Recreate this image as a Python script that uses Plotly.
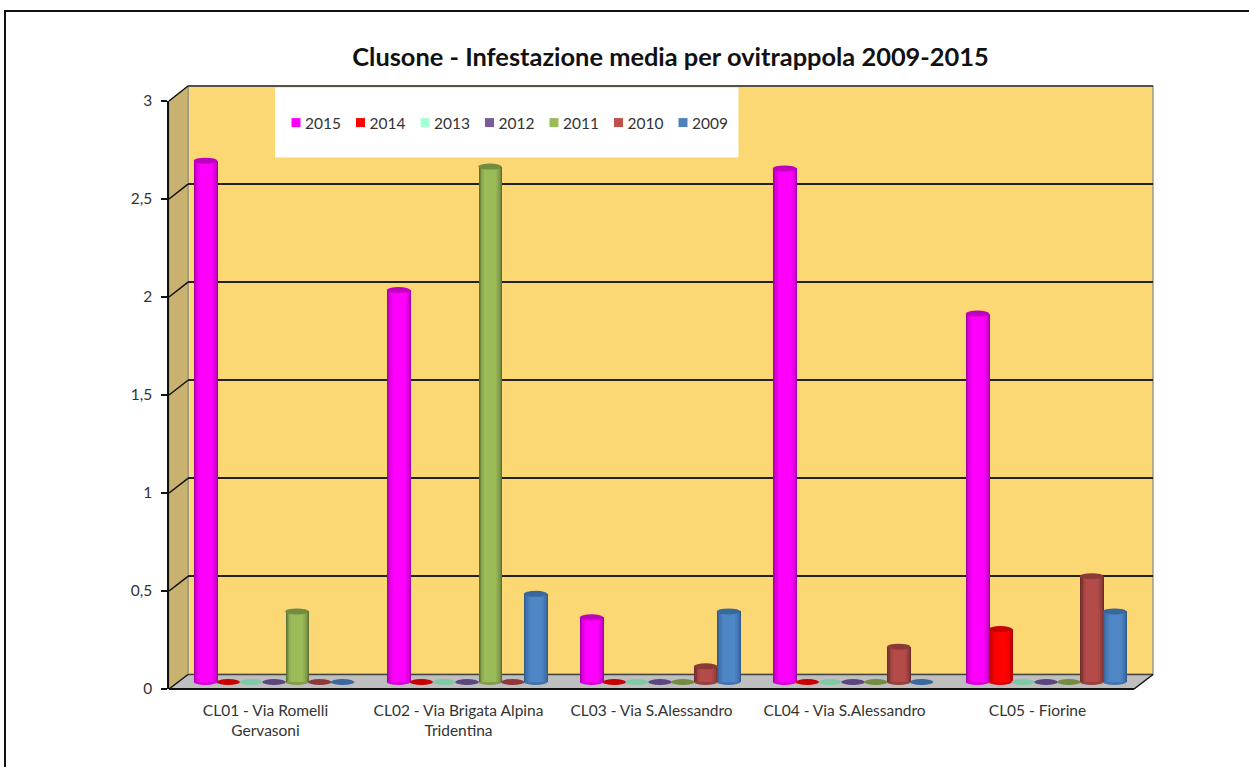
import plotly.graph_objects as go

W, H = 1249, 767

# ---- data ----
SITES = ["CL01 - Via Romelli<br>Gervasoni", "CL02 - Via Brigata Alpina<br>Tridentina",
         "CL03 - Via S.Alessandro", "CL04 - Via S.Alessandro", "CL05 - Fiorine"]
TITLE = "Clusone - Infestazione media per ovitrappola 2009-2015"
YEARS = ["2015", "2014", "2013", "2012", "2011", "2010", "2009"]
V2015 = [2.66, 2.00, 0.33, 2.62, 1.88]
V2014 = [0, 0, 0, 0, 0.27]
V2013 = [0, 0, 0, 0, 0]
V2012 = [0, 0, 0, 0, 0]
V2011 = [0.36, 2.63, 0, 0, 0]
V2010 = [0, 0, 0.08, 0.18, 0.54]
V2009 = [0, 0.45, 0.36, 0, 0.36]
SERIES = [V2015, V2014, V2013, V2012, V2011, V2010, V2009]
Y_TICKS = [0, 0.5, 1, 1.5, 2, 2.5, 3]

# legend colour, centre of cylinder, edge of cylinder, cap/disc
COL = [("#FF00FF", "#FF00FF", "#A800A8", "#C000C0"),
       ("#FF0000", "#FF0000", "#B00000", "#C80000"),
       ("#A6FFD2", "#A6FFD2", "#70B090", "#7FC9A6"),
       ("#7A5C99", "#7A5C99", "#4E3A66", "#5C4680"),
       ("#9BBB59", "#9BBB59", "#5C7233", "#728C42"),
       ("#C0504D", "#B54B48", "#6E2C2A", "#8C3A38"),
       ("#4F81BD", "#4F86C6", "#2F5C8C", "#38689C")]


def px(x):
    return x / W


def py(y):
    return 1 - y / H


def mix(a, b, t):
    ca = [int(a[i:i + 2], 16) for i in (1, 3, 5)]
    cb = [int(b[i:i + 2], 16) for i in (1, 3, 5)]
    return "#%02x%02x%02x" % tuple(round(p + (q - p) * t) for p, q in zip(ca, cb))


# geometry of the 3-D box (pixels)
FX0, FX1, FY0, FY3 = 169, 1134, 689, 101        # front axis
BX0, BX1, BY0, BY3 = 188, 1153, 674.5, 86       # back wall
CX0, CX1, CY0, CY3 = 177.5, 1142.5, 682, 94     # cylinder plane
UNIT = (CY0 - CY3) / 3
YPAD = 0.1                                      # room below zero so the round bases are not clipped
STEP = 22.85 / 193
LAYERS = [(1.03, 0.0), (0.94, 0.30), (0.84, 0.60), (0.70, 0.85), (0.52, 1.0)]


def poly(points, fill, line=None, lw=1):
    path = "M" + "L".join(f"{px(a):.5f},{py(b):.5f}" for a, b in points) + "Z"
    return dict(type="path", xref="paper", yref="paper", path=path, fillcolor=fill,
                line=dict(color=line or fill, width=lw), layer="below")


def seg(x0, y0, x1, y1, color, lw):
    return dict(type="line", xref="paper", yref="paper", x0=px(x0), y0=py(y0), x1=px(x1), y1=py(y1),
                line=dict(color=color, width=lw), layer="below")


shapes = [
    # outer frame
    dict(type="rect", xref="paper", yref="paper", x0=px(5), y0=py(11), x1=1.02, y1=-0.02,
         line=dict(color="#111111", width=2), fillcolor="rgba(0,0,0,0)", layer="below"),
    poly([(BX0, BY3), (BX1, BY3), (BX1, BY0), (BX0, BY0)], "#FCD874", "#9A9A8A", 1.5),
    poly([(FX0, FY3), (BX0, BY3), (BX0, BY0), (FX0, FY0)], "#C9B26F", "#8F8F80", 1),
    poly([(FX0, FY0), (BX0, BY0), (BX1, BY0), (FX1, FY0)], "#BFBFBF", "#BFBFBF", 1),
    seg(BX0, BY0, BX1, BY0, "#444444", 1.5),
    seg(FX0, FY0, FX1, FY0, "#111111", 2),
    seg(FX1, FY0, BX1, BY0, "#111111", 1.5),
    seg(BX0, BY3, BX1, BY3, "#333333", 1.5),
    poly([(275.5, 88), (738, 88), (738, 157), (275.5, 157)], "#FFFFFF"),
]
for t in Y_TICKS:
    f = FY0 + (FY3 - FY0) * t / 3
    b = BY0 + (BY3 - BY0) * t / 3
    shapes.append(seg(FX0, f, BX0, b, "#111111", 1.5))

fig = go.Figure()

# placeholders so the back-wall and front-axis subplots exist (drawn first, under the cylinders)
fig.add_trace(go.Scatter(x=[None], y=[None], xaxis="x", yaxis="y", showlegend=False, hoverinfo="skip"))
fig.add_trace(go.Scatter(x=[None], y=[None], xaxis="x2", yaxis="y2", showlegend=False, hoverinfo="skip"))

# cylinders: nested bars give the round shading
for s, (year, vals, c) in enumerate(zip(YEARS, SERIES, COL)):
    xs = [i + (s - 3) * STEP for i in range(len(vals))]
    for frac, t in LAYERS:
        fig.add_trace(go.Bar(x=xs, y=vals, width=STEP * frac, xaxis="x3", yaxis="y3",
                             marker=dict(color=mix(c[2], c[1], t), line=dict(width=0)),
                             showlegend=False, hoverinfo="skip"))
    for x, v in zip(xs, vals):
        common = dict(type="circle", xref="x3", yref="y3", xsizemode="pixel", ysizemode="pixel",
                      xanchor=x, x0=-11.75, x1=11.75, y0=-3, y1=3, line=dict(width=0))
        shapes.append(dict(common, yanchor=v, fillcolor=c[3], layer="above"))
        if v > 0:
            shapes.append(dict(common, yanchor=0, fillcolor=mix(c[2], c[1], 0.6), layer="below"))

# legend entries
for year, c in zip(YEARS, COL):
    fig.add_trace(go.Scatter(x=[None], y=[None], name=year, mode="markers", xaxis="x3", yaxis="y3",
                             marker=dict(symbol="square", size=9, color=c[0], line=dict(width=0))))
# blank entry: keeps the legend wide enough that the last label is not clipped
fig.add_trace(go.Scatter(x=[None], y=[None], name=" ", mode="markers", xaxis="x3", yaxis="y3",
                         marker=dict(symbol="square", size=1, color="rgba(0,0,0,0)", line=dict(width=0))))

font = "Lato, Carlito, 'Open Sans', sans-serif"
fig.update_layout(
    width=W, height=H, autosize=False, margin=dict(l=0, r=0, t=0, b=0, pad=0, autoexpand=False),
    paper_bgcolor="white", plot_bgcolor="rgba(0,0,0,0)",
    font=dict(family=font, size=14, color="#333333"), separators=", ",
    barmode="overlay", bargap=0, shapes=shapes,
    title=dict(text=f"<b>{TITLE}</b>", x=670.5 / W, xref="paper", xanchor="center",
               y=py(57), yref="paper", yanchor="middle",
               font=dict(family=font, size=25.4, color="#111111")),
    legend=dict(orientation="h", x=px(265), xanchor="left", y=py(123), yanchor="middle",
                bgcolor="rgba(0,0,0,0)", entrywidth=19.5, entrywidthmode="pixels",
                itemsizing="trace", itemclick=False, itemdoubleclick=False,
                font=dict(size=15.5, color="#333333"), traceorder="normal"),
    # back wall gridlines
    xaxis=dict(domain=[px(BX0), px(BX1)], range=[0, 1], visible=False, anchor="y"),
    yaxis=dict(domain=[py(BY0), py(BY3)], range=[0, 3], tickvals=Y_TICKS, showgrid=True,
               gridcolor="#222222", gridwidth=1.5, showticklabels=False, ticks="", zeroline=False,
               showline=False, anchor="x"),
    # front axes with the labels
    xaxis2=dict(domain=[px(FX0), px(FX1)], range=[-0.5, 4.5], tickvals=list(range(len(SITES))),
                ticktext=SITES, showgrid=False, zeroline=False, showline=False, ticks="",
                ticklabelstandoff=10, anchor="y2", tickfont=dict(size=15.5)),
    yaxis2=dict(domain=[py(FY0), py(FY3)], range=[0, 3], tickvals=Y_TICKS, showgrid=False,
                zeroline=False, showline=True, linecolor="#111111", linewidth=1.5, ticks="outside",
                ticklen=6, tickcolor="#111111", tickwidth=1.5, anchor="x2",
                ticklabelstandoff=6, tickfont=dict(size=15.5)),
    # cylinder plane
    xaxis3=dict(domain=[px(CX0), px(CX1)], range=[-0.5, 4.5], visible=False, anchor="y3"),
    yaxis3=dict(domain=[py(CY0 + YPAD * UNIT), py(CY3)], range=[-YPAD, 3], visible=False, anchor="x3"),
)

# swatches sit closer to their labels than plotly's fixed item gap allows
POST = """
document.body.style.margin='0';document.body.style.overflow='hidden';
(function(){var gd=document.getElementById('{plot_id}');
function nudge(){gd.querySelectorAll('.legend .legendpoints').forEach(function(g){g.setAttribute('transform','translate(11,0)');});}
nudge();setTimeout(nudge,0);if(gd.on){gd.on('plotly_afterplot',nudge);}})();
"""
fig.write_html("out.html", config=dict(displayModeBar=False), post_script=POST)
